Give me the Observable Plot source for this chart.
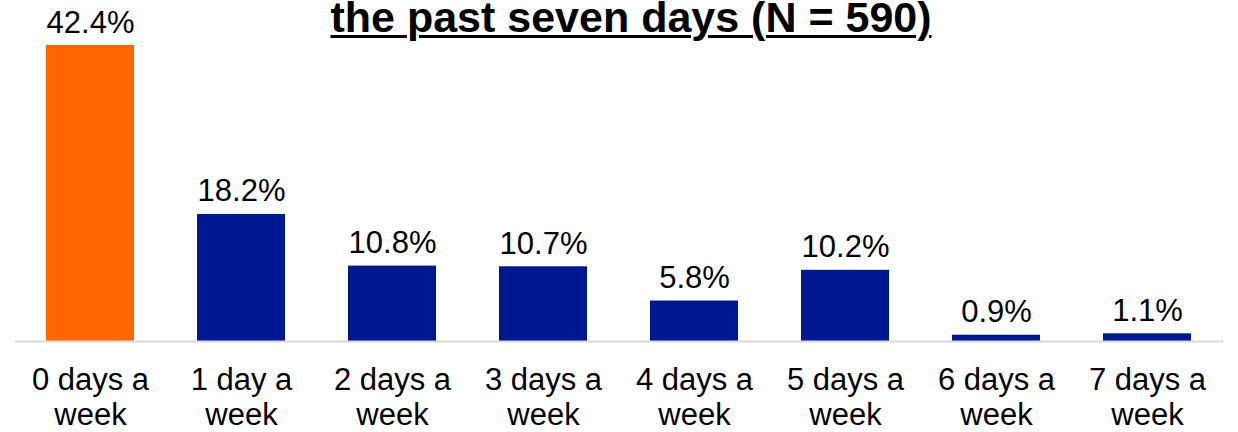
<!DOCTYPE html>
<html>
<head>
<meta charset="utf-8">
<script src="https://cdn.jsdelivr.net/npm/d3@7"></script>
<script src="https://cdn.jsdelivr.net/npm/@observablehq/plot@0.6"></script>
<style>
  html, body { margin: 0; padding: 0; background: #fff; }
  #wrap { position: relative; width: 1238px; height: 432px; overflow: hidden; font-family: "Liberation Sans", Arial, sans-serif; }
  #title { position: absolute; left: 0; width: 1238px; top: -5px; text-align: center; font-weight: bold; font-size: 43px; text-decoration: underline; text-decoration-thickness: 3px; text-underline-offset: 3px; color: #000; line-height: 44px; padding-left: 24px; box-sizing: border-box; white-space: nowrap; }
</style>
</head>
<body>
<div id="wrap"><div id="title">the past seven days (N = 590)</div></div>
<script>
const categories = ["0 days a\nweek", "1 day a\nweek", "2 days a\nweek", "3 days a\nweek", "4 days a\nweek", "5 days a\nweek", "6 days a\nweek", "7 days a\nweek"];
const values = [42.4, 18.2, 10.8, 10.7, 5.8, 10.2, 0.9, 1.1];
const labels = ["42.4%", "18.2%", "10.8%", "10.7%", "5.8%", "10.2%", "0.9%", "1.1%"];
const groups = ["none", "some", "some", "some", "some", "some", "some", "some"];

const data = categories.map((c, i) => ({cat: c, value: values[i], label: labels[i], group: groups[i]}));

const chart = Plot.plot({
  width: 1238,
  height: 432,
  marginTop: 45,
  marginBottom: 91,
  marginLeft: 15,
  marginRight: 15,
  style: {fontFamily: "Liberation Sans, Arial, sans-serif", background: "transparent", color: "#000"},
  x: {domain: categories, paddingInner: 0.417, paddingOuter: 0.205, label: null},
  y: {domain: [0, 42.4], axis: null},
  color: {domain: ["none", "some"], range: ["#FF6600", "#00188F"]},
  marks: [
    Plot.barY(data, {x: "cat", y: "value", fill: "group"}),
    Plot.ruleY([0], {stroke: "#d9d9d9", strokeWidth: 2}),
    Plot.text(data, {x: "cat", y: "value", text: "label", lineAnchor: "bottom", dy: -13, fontSize: 31, fill: "#000"}),
    Plot.axisX({tickSize: 0, tickPadding: 24, fontSize: 31, lineHeight: 1.13, fill: "#000", label: null})
  ]
});
document.getElementById("wrap").appendChild(chart);
chart.style.position = "absolute";
chart.style.left = "0";
chart.style.top = "0";
</script>
</body>
</html>
